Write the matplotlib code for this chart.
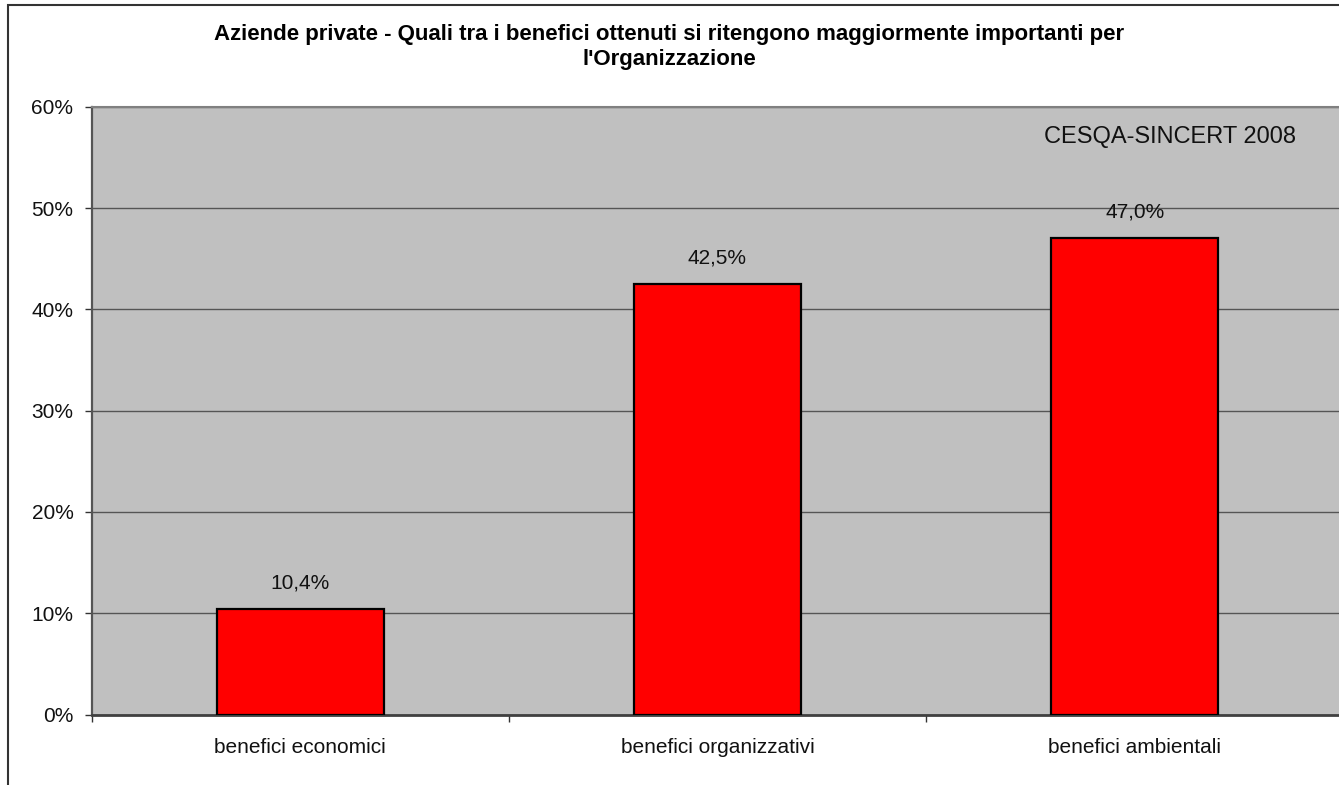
import matplotlib
matplotlib.use("Agg")
import matplotlib.pyplot as plt
from matplotlib.patches import Rectangle

categories = ["benefici economici", "benefici organizzativi", "benefici ambientali"]
values = [10.4, 42.5, 47.0]
y_ticks = [0, 10, 20, 30, 40, 50, 60]
y_tick_labels = ["0%", "10%", "20%", "30%", "40%", "50%", "60%"]
title = ("Aziende private - Quali tra i benefici ottenuti si ritengono maggiormente importanti per\n"
         "l'Organizzazione")
source = "CESQA-SINCERT 2008"

plt.rcParams['font.family'] = ['Liberation Sans', 'DejaVu Sans']

W, H = 1339, 785
fig = plt.figure(figsize=(W / 100, H / 100), dpi=100)
fig.patch.set_facecolor('white')

# outer chart border (cut off at right and bottom in the reference)
fig.add_artist(Rectangle((7.5 / W, -0.2), 2.0, (H - 4.7) / H + 0.2,
                         transform=fig.transFigure, fill=False,
                         edgecolor='#333333', lw=1.5, clip_on=False))

left, right = 91.5 / W, 1343.5 / W
bottom, top = 1 - 714.5 / H, 1 - 106.7 / H
ax = fig.add_axes([left, bottom, right - left, top - bottom])
ax.set_facecolor('#C0C0C0')

x = list(range(len(categories)))
bars = ax.bar(x, values, width=0.4, color='#FF0000', edgecolor='black',
              linewidth=1.6, zorder=3)

for xi, v in zip(x, values):
    ax.annotate(f"{v:.1f}%".replace('.', ','), (xi, v), xytext=(0, 19),
                textcoords='offset points', ha='center', va='center',
                fontsize=15, color='#111111', zorder=4)

ax.set_xlim(-0.5, len(categories) - 0.5)
ax.set_ylim(0, 60)
ax.set_yticks(y_ticks)
ax.set_yticklabels(y_tick_labels, fontsize=15, color='#111111')
ax.yaxis.grid(True, color='#555555', linewidth=1.0)
ax.set_axisbelow(True)

ax.set_xticks(x)
ax.set_xticklabels(categories, fontsize=15, color='#111111')
ax.tick_params(axis='x', which='major', length=0, pad=17)
ax.set_xticks([i + 0.5 for i in range(-1, len(categories))], minor=True)
ax.tick_params(axis='x', which='minor', length=5, width=1, color='#333333',
               direction='out')
ax.tick_params(axis='y', length=5, width=1, color='#333333', pad=8,
               direction='out')

ax.spines['left'].set_color('#555555')
ax.spines['left'].set_linewidth(1.6)
ax.spines['bottom'].set_color('#404040')
ax.spines['bottom'].set_linewidth(2.0)
ax.spines['top'].set_color('#808080')
ax.spines['top'].set_linewidth(1.5)
ax.spines['right'].set_visible(False)

ax.text(1170 / W, 1 - 137 / H, source, transform=fig.transFigure,
        ha='center', va='center', fontsize=17, color='#111111')

fig.text(0.5, 1 - 47 / H, title, ha='center', va='center', fontsize=16,
         fontweight='bold', color='black', linespacing=1.2)

fig.savefig('out.png', dpi=100, facecolor='white')
